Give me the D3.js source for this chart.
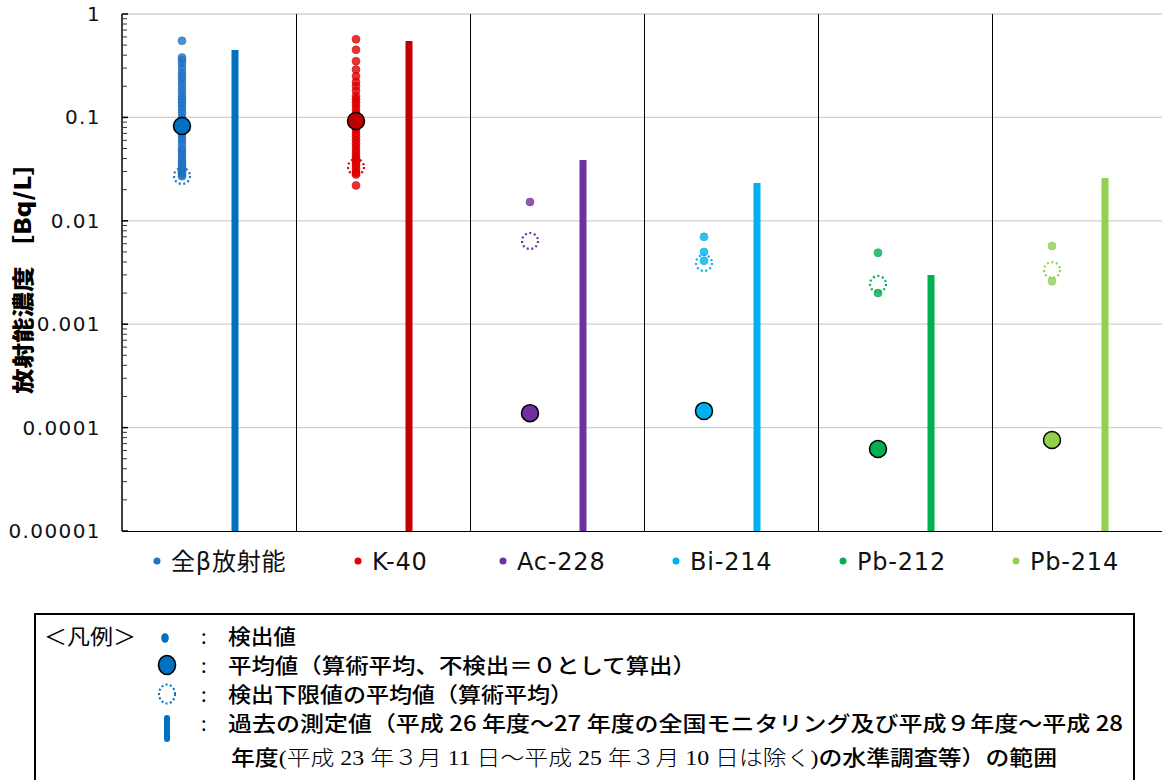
<!DOCTYPE html>
<html><head><meta charset="utf-8">
<script src="https://cdn.jsdelivr.net/npm/d3@7"></script>
<style>html,body{margin:0;padding:0;background:#fff;overflow:hidden}</style>
</head><body>
<svg id="c" width="1162" height="780"></svg>
<script>
const categories = ["全β放射能","K-40","Ac-228","Bi-214","Pb-212","Pb-214"];
const colors = ["#0070C0","#C00000","#7030A0","#00B0F0","#00B050","#92D050"];
const dotColors = ["#1F74C4","#E00000","#7030A0","#00B0F0","#00B050","#92D050"];
const detected = [
  [0.55,0.38,0.36,0.33,0.30,0.27,0.25,0.23,0.21,0.19,0.175,0.16,0.15,0.14,0.13,0.12,0.11,0.10,0.095,0.09,0.085,0.08,0.075,0.07,0.065,0.06,0.055,0.05,0.047,0.044,0.041,0.038,0.036,0.034,0.032,0.030,0.029,0.028,0.027],
  [0.57,0.45,0.35,0.29,0.25,0.22,0.20,0.18,0.16,0.15,0.14,0.13,0.12,0.11,0.10,0.095,0.09,0.085,0.08,0.075,0.07,0.065,0.06,0.056,0.052,0.048,0.045,0.042,0.040,0.038,0.036,0.034,0.032,0.030,0.029,0.028,0.022],
  [0.0152],
  [0.0070,0.0050,0.0041],
  [0.0049,0.0020],
  [0.0057,0.0026]
];
const meanValues = [0.0826,0.0923,0.000138,0.000145,0.0000621,0.0000759];
const ndlMeanValues = [0.0271,0.0331,0.00638,0.00391,0.00245,0.00334];
const pastMax = [0.449,0.548,0.0387,0.0232,0.00299,0.0259];
const pastMin = [0.00001,0.00001,0.00001,0.00001,0.00001,0.00001];
const yTicks = [1,0.1,0.01,0.001,0.0001,0.00001];
const yTickLabels = ["1","0.1","0.01","0.001","0.0001","0.00001"];
const yTitle = "放射能濃度 ［Bq/L］";
const legendTitle = "＜凡例＞";
const legendRows = ["検出値","平均値（算術平均、不検出＝０として算出）","検出下限値の平均値（算術平均）","過去の測定値（平成 26 年度～27 年度の全国モニタリング及び平成９年度～平成 28"];

const svg = d3.select("#c");
const L=122, R=1166, T=14, B=531;
const y = d3.scaleLog().domain([1e-5,1]).range([B,T]);
const x = d3.scaleBand().domain(categories).range([L,R]).padding(0);
const cx = i => x(categories[i]) + x.bandwidth()/2;
const dotX = i => cx(i) - 27, barX = i => cx(i) + 26;

// gridlines
svg.append("g").selectAll("line").data(yTicks.slice(0,5)).join("line")
  .attr("x1",L).attr("x2",R).attr("y1",d=>y(d)).attr("y2",d=>y(d))
  .attr("stroke","#D0D0D0").attr("stroke-width",1.3);
// category separators
svg.append("g").selectAll("line").data(categories.slice(1)).join("line")
  .attr("x1",d=>x(d)+0.5).attr("x2",d=>x(d)+0.5).attr("y1",T).attr("y2",B)
  .attr("stroke","#000").attr("stroke-width",1);
// bottom axis line
svg.append("line").attr("x1",L).attr("x2",R).attr("y1",B+0.5).attr("y2",B+0.5).attr("stroke","#000").attr("stroke-width",1.2);

// y axis
const minor = [];
for (let e=-5;e<0;e++) for (let k=2;k<=9;k++) minor.push(k*Math.pow(10,e));
const yAxis = svg.append("g").attr("transform",`translate(${L},0)`);
yAxis.append("line").attr("x1",0).attr("x2",0).attr("y1",T).attr("y2",B).attr("stroke","#000").attr("stroke-width",1.5);
yAxis.selectAll(".mn").data(minor).join("line").attr("class","mn")
  .attr("x1",0).attr("x2",5).attr("y1",d=>y(d)).attr("y2",d=>y(d)).attr("stroke","#333").attr("stroke-width",1);
yAxis.selectAll(".mj").data(yTicks).join("line").attr("class","mj")
  .attr("x1",0).attr("x2",6).attr("y1",d=>y(d)).attr("y2",d=>y(d)).attr("stroke","#000").attr("stroke-width",1.5);
yAxis.selectAll("text").data(yTicks).join("text")
  .attr("x",-21).attr("y",d=>y(d)).attr("dy","0.35em").attr("text-anchor","end")
  .attr("font-family","DejaVu Sans, Verdana, sans-serif").attr("font-size",20).attr("letter-spacing",1.4)
  .attr("fill","#111").text((d,i)=>yTickLabels[i]);

svg.append("text").attr("transform",`translate(31,272) rotate(-90)`)
  .attr("text-anchor","middle").attr("font-family","Noto Sans CJK JP").attr("font-weight","900")
  .attr("font-size",22).attr("textLength",244).attr("lengthAdjust","spacingAndGlyphs").text(yTitle);

// past range bars
svg.append("g").selectAll("rect").data(categories).join("rect")
  .attr("x",(d,i)=>barX(i)-3.5).attr("width",7)
  .attr("y",(d,i)=>y(pastMax[i])).attr("height",(d,i)=>y(pastMin[i])-y(pastMax[i]))
  .attr("fill",(d,i)=>colors[i]);

// detected dots
categories.forEach((c,i)=>{
  svg.append("g").selectAll("circle").data(detected[i]).join("circle")
    .attr("cx",dotX(i)).attr("cy",d=>y(d)).attr("r",4)
    .attr("fill",dotColors[i]).attr("fill-opacity",0.8)
    .attr("stroke",d3.color(dotColors[i]).darker(0.2)).attr("stroke-opacity",0.6).attr("stroke-width",0.8);
});
// NDL mean dotted circles
svg.append("g").selectAll("circle").data(categories).join("circle")
  .attr("cx",(d,i)=>dotX(i)).attr("cy",(d,i)=>y(ndlMeanValues[i])).attr("r",8)
  .attr("fill","none").attr("stroke",(d,i)=>dotColors[i]).attr("stroke-width",2.2).attr("stroke-dasharray","2,2.6");
// mean circles
svg.append("g").selectAll("circle").data(categories).join("circle")
  .attr("cx",(d,i)=>dotX(i)).attr("cy",(d,i)=>y(meanValues[i])).attr("r",8.5)
  .attr("fill",(d,i)=>colors[i]).attr("stroke","#000").attr("stroke-width",1.5);

// series legend
const legX = [157,358,503,676,843,1016];
const lg = svg.append("g");
categories.forEach((c,i)=>{
  lg.append("circle").attr("cx",legX[i]).attr("cy",561).attr("r",3.5).attr("fill",dotColors[i]);
  lg.append("text").attr("x",legX[i]+14).attr("y",561).attr("dy","0.36em")
    .attr("font-family","DejaVu Sans, Noto Sans CJK JP").attr("font-size",24).attr("letter-spacing",0.8)
    .attr("fill","#111").text(c);
});

// explanation box
const bx = svg.append("g");
bx.append("rect").attr("x",35).attr("y",614).attr("width",1099).attr("height",200)
  .attr("fill","none").attr("stroke","#000").attr("stroke-width",2);
const jf = "Noto Sans CJK JP";
bx.append("text").attr("x",44).attr("y",644).attr("font-family",jf).attr("font-size",21)
  .attr("textLength",92).attr("lengthAdjust","spacingAndGlyphs").text(legendTitle);
// symbols
bx.append("ellipse").attr("cx",165).attr("cy",638).attr("rx",3.8).attr("ry",4.8).attr("fill","#0070C0");
bx.append("ellipse").attr("cx",167).attr("cy",665).attr("rx",8.5).attr("ry",9.5).attr("fill","#0070C0").attr("stroke","#000").attr("stroke-width",1.6);
bx.append("ellipse").attr("cx",167).attr("cy",694).attr("rx",8).attr("ry",9.5).attr("fill","none").attr("stroke","#0070C0").attr("stroke-width",2).attr("stroke-dasharray","2,2.4");
bx.append("line").attr("x1",167).attr("x2",167).attr("y1",718).attr("y2",739).attr("stroke","#0070C0").attr("stroke-width",6).attr("stroke-linecap","round");
const rowY = [644,673,702,731];
const rowLen = [68,468,345,895];
rowY.forEach((ry,i)=>{
  bx.append("text").attr("x",201).attr("y",ry).attr("font-family",jf).attr("font-size",20).text(":");
  bx.append("text").attr("x",228).attr("y",ry).attr("font-family",jf).attr("font-size",21).attr("font-weight","500")
    .attr("textLength",rowLen[i]).attr("lengthAdjust","spacingAndGlyphs").text(legendRows[i]);
});
const t5 = bx.append("text").attr("x",231).attr("y",765).attr("font-size",21)
  .attr("textLength",826).attr("lengthAdjust","spacingAndGlyphs");
t5.append("tspan").attr("font-family",jf).attr("font-weight","500").text("年度");
t5.append("tspan").attr("font-family","Liberation Serif, Noto Sans CJK JP").attr("font-weight","300").text("(平成 23 年３月 11 日～平成 25 年３月 10 日は除く)");
t5.append("tspan").attr("font-family",jf).attr("font-weight","500").text("の水準調査等）の範囲");
</script>
</body></html>
